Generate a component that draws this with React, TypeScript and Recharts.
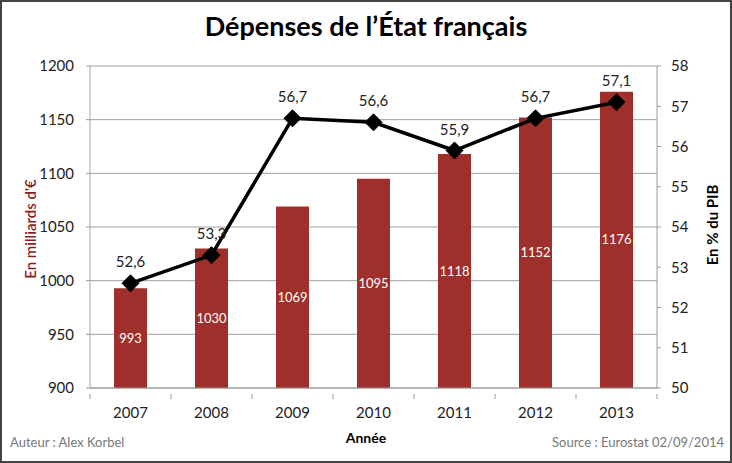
import React from "react";
import { ComposedChart, Bar, Line, XAxis, YAxis, CartesianGrid, LabelList } from "recharts";

const years = ["2007", "2008", "2009", "2010", "2011", "2012", "2013"];
const spending = [993, 1030, 1069, 1095, 1118, 1152, 1176];
const pctGdp = [52.6, 53.3, 56.7, 56.6, 55.9, 56.7, 57.1];
const leftTicks = [900, 950, 1000, 1050, 1100, 1150, 1200];
const rightTicks = [50, 51, 52, 53, 54, 55, 56, 57, 58];

const data = years.map((y, i) => ({ year: y, spending: spending[i], pct: pctGdp[i] }));

const FONT = "Lato, 'Open Sans', sans-serif";
const BAR_COLOR = "#9E2F2B";
const CHART_W = 732;
const LEFT_W = 90;
const RIGHT_W = 75;
const HALF_BAND = (CHART_W - LEFT_W - RIGHT_W) / years.length / 2;

const Diamond = (props: any) => {
  const { cx, cy } = props;
  if (cx == null || cy == null) return null;
  const s = 8.5;
  return (
    <polygon
      points={`${cx},${cy - s} ${cx + s},${cy} ${cx},${cy + s} ${cx - s},${cy}`}
      fill="#000"
      stroke="#000"
    />
  );
};

const XTick = (props: any) => {
  const { x, y, payload, index, visibleTicksCount } = props;
  const axisY = y - 13;
  return (
    <g>
      <line x1={x - HALF_BAND} x2={x - HALF_BAND} y1={axisY} y2={axisY + 5} stroke="#9A9A9A" />
      {index === visibleTicksCount - 1 && (
        <line x1={x + HALF_BAND} x2={x + HALF_BAND} y1={axisY} y2={axisY + 5} stroke="#9A9A9A" />
      )}
      <text x={x} y={y} dy="0.71em" textAnchor="middle" fill="#222" fontSize={15} fontFamily={FONT}>
        {payload.value}
      </text>
    </g>
  );
};

export default function App() {
  return (
    <div
      style={{
        position: "absolute",
        left: 0,
        top: 0,
        width: 732,
        height: 463,
        boxSizing: "border-box",
        border: "2px solid #444",
        background: "#fff",
        fontFamily: FONT,
      }}
    >
      <div
        style={{
          position: "absolute",
          left: -2,
          top: 7,
          width: 732,
          textAlign: "center",
          fontSize: 27,
          fontWeight: 700,
          color: "#000",
        }}
      >
        Dépenses de l’État français
      </div>
      <div style={{ position: "absolute", left: -2, top: -2 }}>
        <ComposedChart
          width={CHART_W}
          height={463}
          data={data}
          margin={{ top: 66, right: 0, bottom: 0, left: 0 }}
        >
          <CartesianGrid yAxisId="left" vertical={false} stroke="#A0A0A0" />
          <XAxis
            dataKey="year"
            height={75}
            tickLine={false}
            axisLine={{ stroke: "#9A9A9A" }}
            tick={<XTick />}
            tickMargin={13}
          />
          <YAxis
            yAxisId="left"
            orientation="left"
            width={LEFT_W}
            domain={[900, 1200]}
            ticks={leftTicks}
            allowDataOverflow
            tickSize={4}
            tickMargin={12}
            axisLine={{ stroke: "#9DAA9D" }}
            tickLine={{ stroke: "#9A9A9A" }}
            tick={{ fill: "#222", fontSize: 15, fontFamily: FONT }}
          />
          <YAxis
            yAxisId="right"
            orientation="right"
            width={RIGHT_W}
            domain={[50, 58]}
            ticks={rightTicks}
            tickSize={4}
            tickMargin={10}
            axisLine={{ stroke: "#9A9A9A" }}
            tickLine={{ stroke: "#9A9A9A" }}
            tick={{ fill: "#222", fontSize: 15, fontFamily: FONT, textAnchor: "start" }}
          />
          <Bar yAxisId="left" dataKey="spending" fill={BAR_COLOR} barSize={33} isAnimationActive={false}>
            <LabelList
              dataKey="spending"
              position="center"
              fill="#fff"
              fontSize={13}
              fontFamily={FONT}
            />
          </Bar>
          <Line
            yAxisId="right"
            dataKey="pct"
            stroke="#000"
            strokeWidth={3.5}
            dot={<Diamond />}
            activeDot={false}
            isAnimationActive={false}
          >
            <LabelList
              dataKey="pct"
              position="top"
              offset={16}
              fill="#222"
              fontSize={15}
              fontFamily={FONT}
              formatter={(v: any) => String(v).replace(".", ",")}
            />
          </Line>
        </ComposedChart>
      </div>
      <div
        style={{
          position: "absolute",
          left: 30 - 2,
          top: 229 - 2,
          transform: "translate(-50%, -50%) rotate(-90deg)",
          fontSize: 15,
          fontWeight: 600,
          color: "#8B1E1E",
          whiteSpace: "nowrap",
        }}
      >
        En milliards d'€
      </div>
      <div
        style={{
          position: "absolute",
          left: 712 - 2,
          top: 225 - 2,
          transform: "translate(-50%, -50%) rotate(-90deg)",
          fontSize: 15,
          fontWeight: 700,
          color: "#000",
          whiteSpace: "nowrap",
        }}
      >
        En % du PIB
      </div>
      <div
        style={{
          position: "absolute",
          left: -2,
          top: 427,
          width: 732,
          textAlign: "center",
          fontSize: 14,
          fontWeight: 700,
          color: "#000",
        }}
      >
        Année
      </div>
      <div style={{ position: "absolute", left: 8, top: 432, fontSize: 13, color: "#777" }}>
        Auteur : Alex Korbel
      </div>
      <div style={{ position: "absolute", right: 6, top: 432, fontSize: 13, color: "#777" }}>
        Source : Eurostat 02/09/2014
      </div>
    </div>
  );
}
